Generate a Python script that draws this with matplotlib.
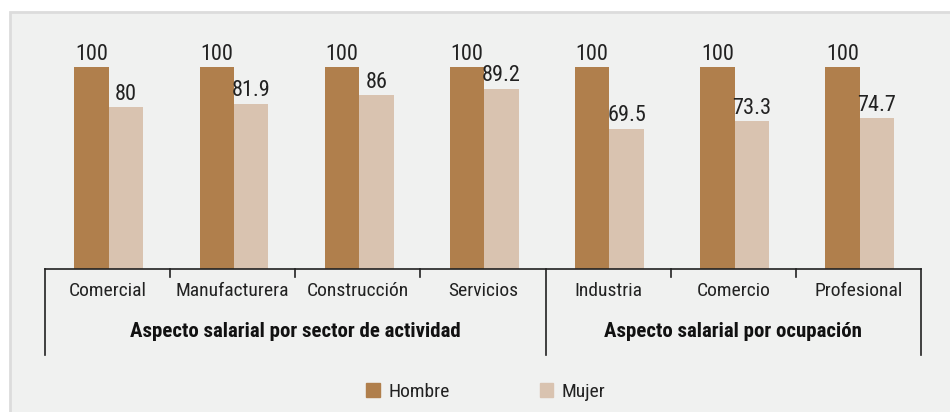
import matplotlib.pyplot as plt
from matplotlib import font_manager
from matplotlib.patches import Rectangle, Patch

categories = ["Comercial", "Manufacturera", "Construcción", "Servicios",
              "Industria", "Comercio", "Profesional"]
hombre = [100, 100, 100, 100, 100, 100, 100]
mujer = [80, 81.9, 86, 89.2, 69.5, 73.3, 74.7]
groups = ["Aspecto salarial por sector de actividad", "Aspecto salarial por ocupación"]
group_sizes = [4, 3]
series_names = ["Hombre", "Mujer"]

c_hombre = "#b07f4c"
c_mujer = "#d9c3b0"

# prefer a narrow sans if one is installed
installed = {f.name for f in font_manager.fontManager.ttflist}
narrow = [n for n in ["Liberation Sans Narrow", "DejaVu Sans Condensed", "Roboto Condensed",
                      "Open Sans Condensed", "Noto Sans Condensed", "Liberation Sans"]
          if n in installed]
plt.rcParams["font.family"] = narrow[:1] + ["DejaVu Sans"]

W, H = 950, 412
fig = plt.figure(figsize=(W / 100, H / 100), dpi=100, facecolor="white")

# gray panel behind the chart
fig.patches.append(Rectangle((10 / W, -0.1), 1.0, 1.1 - 12 / H, transform=fig.transFigure,
                             facecolor="#f0f1f0", edgecolor="#dcdcdc", linewidth=2, zorder=-5))

left, right = 45 / W, 921 / W
bottom = 1 - 269 / H
top = 1 - 46.8 / H
ax = fig.add_axes([left, bottom, right - left, top - bottom])
ax.set_facecolor("none")
ax.set_zorder(2)
ax_h = (top - bottom) * H  # axes height in pixels

x = list(range(len(categories)))
bw = 0.275
off = 0.01
ax.bar([i - bw / 2 + off for i in x], hombre, width=bw, color=c_hombre, zorder=2)
ax.bar([i + bw / 2 + off for i in x], mujer, width=bw, color=c_mujer, zorder=2)
for i in x:
    ax.text(i - bw / 2 + off, hombre[i] + 1.2, f"{hombre[i]:g}", ha="center", va="bottom",
            fontsize=16, color="#222222")
    ax.text(i + bw / 2 + off, mujer[i] + 1.2, f"{mujer[i]:g}", ha="center", va="bottom",
            fontsize=16, color="#222222")

ax.set_xlim(-0.5, len(categories) - 0.5)
ax.set_ylim(0, 110)
ax.set_yticks([])
ax.set_xticks([])
for s in ["top", "right", "left"]:
    ax.spines[s].set_visible(False)
ax.spines["bottom"].set_color("#222222")
ax.spines["bottom"].set_linewidth(1.2)

tr = ax.get_xaxis_transform()
for i in x:
    ax.text(i, -22 / ax_h, categories[i], transform=tr, ha="center", va="center",
            fontsize=14, color="#222222")

# dividers: short ticks within a group, long lines at group edges
edges = [-0.5]
for n in group_sizes:
    edges.append(edges[-1] + n)
for b in [i - 0.5 for i in range(len(categories) + 1)]:
    depth = 86 if b in edges else 8
    ax.plot([b, b], [0, -depth / ax_h], transform=tr, color="#222222", lw=1.2, clip_on=False)

for g, name in enumerate(groups):
    cx = (edges[g] + edges[g + 1]) / 2
    ax.text(cx, -62 / ax_h, name, transform=tr, ha="center", va="center",
            fontsize=15, fontweight="bold", color="#111111")

handles = [Patch(color=c_hombre), Patch(color=c_mujer)]
fig.legend(handles, series_names, loc="center", bbox_to_anchor=(486 / W, 1 - 392 / H),
           ncol=2, frameon=False, fontsize=14, handlelength=0.7, handleheight=0.7,
           handletextpad=0.45, columnspacing=4.6, labelcolor="#222222")

fig.savefig("out.png", dpi=100, facecolor="white")
